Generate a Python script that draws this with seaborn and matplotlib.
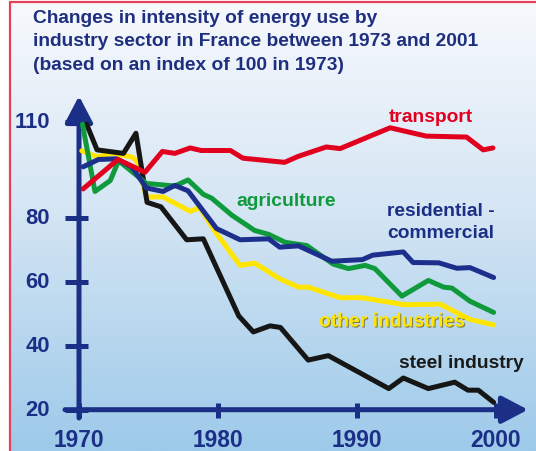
import numpy as np
import pandas as pd
import matplotlib
matplotlib.use("Agg")
import matplotlib.pyplot as plt
import seaborn as sns
from matplotlib import patheffects as pe
from matplotlib.colors import LinearSegmentedColormap
from matplotlib.lines import Line2D

# ---------------- data ----------------
title_lines = [
    "Changes in intensity of energy use by",
    "industry sector in France between 1973 and 2001",
    "(based on an index of 100 in 1973)",
]
x_ticks = [1970, 1980, 1990, 2000]
y_ticks = [20, 40, 60, 80, 110]

transport_years = [1970.3, 1972.8, 1974.75, 1976.0, 1976.9, 1978.0, 1978.8, 1980.9, 1981.8,
                   1984.8, 1985.8, 1987.8, 1988.8, 1992.4, 1995.0, 1997.9, 1999.1, 1999.8]
transport_index = [89.0, 98.2, 94.2, 100.7, 100.1, 101.8, 101.0, 101.0, 98.6,
                   97.3, 99.2, 102.1, 101.6, 108.1, 105.5, 105.2, 101.2, 101.8]

steel_years = [1970.55, 1971.3, 1973.2, 1974.1, 1974.9, 1975.9, 1977.75, 1978.95, 1981.5,
               1982.55, 1983.75, 1984.5, 1986.5, 1987.95, 1992.3, 1993.35, 1995.15,
               1997.05, 1998.0, 1998.75, 1999.85]
steel_index = [109.2, 101.2, 100.1, 106.4, 84.8, 83.4, 73.1, 73.4, 49.3,
               44.3, 46.2, 45.7, 35.5, 36.9, 26.6, 29.9, 26.6,
               28.6, 26.1, 26.1, 22.3]

agri_years = [1970.25, 1971.15, 1972.25, 1972.85, 1974.85, 1976.9, 1977.85, 1978.95, 1979.55,
              1981.0, 1982.65, 1983.65, 1984.85, 1986.4, 1988.3, 1989.4, 1990.6, 1991.3,
              1993.25, 1995.15, 1996.25, 1996.85, 1998.15, 1999.85]
agri_index = [109.2, 88.2, 91.6, 97.8, 90.7, 89.9, 91.8, 87.3, 86.1,
              80.8, 76.0, 74.8, 72.3, 71.3, 65.5, 64.1, 65.1, 64.1,
              55.5, 60.4, 58.3, 58.0, 53.9, 50.4]

other_years = [1970.2, 1971.3, 1972.45, 1973.8, 1974.15, 1974.85, 1976.05, 1978.0, 1978.7,
               1979.9, 1981.6, 1982.65, 1984.45, 1985.8, 1986.5, 1988.8, 1990.35, 1993.45,
               1996.0, 1998.15, 1999.85]
other_index = [100.9, 99.0, 100.1, 99.0, 97.8, 86.5, 86.5, 82.0, 83.1,
               75.0, 65.1, 65.8, 60.9, 58.3, 58.3, 55.0, 55.0, 52.8,
               53.0, 48.2, 46.5]

resid_years = [1970.3, 1971.4, 1972.7, 1973.8, 1974.85, 1976.05, 1976.9, 1977.85, 1979.9,
               1981.6, 1983.65, 1984.45, 1985.8, 1988.2, 1990.4, 1991.15, 1993.35, 1994.05,
               1995.9, 1997.2, 1998.15, 1999.85]
resid_index = [95.9, 98.2, 98.4, 95.9, 89.3, 88.2, 90.1, 88.4, 76.6,
               73.1, 73.4, 70.8, 71.2, 66.4, 66.9, 68.3, 69.3, 66.0,
               65.9, 64.2, 64.4, 61.3]

series = {
    "other industries": (other_years, other_index),
    "steel industry": (steel_years, steel_index),
    "agriculture": (agri_years, agri_index),
    "residential - commercial": (resid_years, resid_index),
    "transport": (transport_years, transport_index),
}

# ---------------- style ----------------
NAVY = "#1c2f86"
colors = {
    "other industries": "#ffe500",
    "steel industry": "#161616",
    "agriculture": "#0f9a3c",
    "residential - commercial": "#1d2f8c",
    "transport": "#e2001f",
}

rows = []
for name, (xs, ys) in series.items():
    for x, y in zip(xs, ys):
        rows.append({"year": x, "index": y, "sector": name})
df = pd.DataFrame(rows)

sns.set_theme(style="white")
plt.rcParams["font.family"] = ["Liberation Sans", "DejaVu Sans"]
plt.rcParams["font.weight"] = "bold"

W, H = 536, 452
fig = plt.figure(figsize=(W / 100, H / 100), dpi=100)
fig.patch.set_facecolor("white")

# gradient background inside the red frame
bg = fig.add_axes([10 / W, 0, 1 - 10 / W, 1 - 3 / H])
cmap = LinearSegmentedColormap.from_list(
    "bg", [(0, "#f7f9fd"), (0.45, "#d6e6f4"), (1, "#9dcaea")])
bg.imshow(np.linspace(0, 1, 256).reshape(-1, 1), aspect="auto", cmap=cmap,
          extent=[0, 1, 1, 0])
bg.set_axis_off()

ax = fig.add_axes([0, 0, 1, 1])
ax.patch.set_alpha(0)
ax.set_axis_off()

# pixel mapping: 1970 -> px 79, 13.89 px/yr ; 20 -> px 410.7, 3.2 px/unit
PXY = 13.89
PYU = 3.2
ax.set_xlim(1970 - 79 / PXY, 1970 + (W - 79) / PXY)
ax.set_ylim(20 - (H - 410.7) / PYU, 20 + 410.7 / PYU)

def px2x(px):
    return 1970 + (px - 79) / PXY

def py2y(py):
    return 20 + (410.7 - py) / PYU

# frame lines (red)
fig.add_artist(Line2D([10 / W, 1], [1 - 3 / H, 1 - 3 / H], transform=fig.transFigure,
                      color="#e5405a", lw=1.6))
fig.add_artist(Line2D([10 / W, 10 / W], [0, 1 - 3 / H], transform=fig.transFigure,
                      color="#e5405a", lw=1.6))

# axes with arrows
arrow_kw = dict(arrowstyle="-|>,head_length=0.8,head_width=0.42", color=NAVY, lw=3.6,
                mutation_scale=20, shrinkA=0, shrinkB=0)
ax.annotate("", xy=(1970, py2y(97)), xytext=(1970, py2y(419)), arrowprops=arrow_kw, zorder=3)
ax.annotate("", xy=(px2x(528), 20), xytext=(px2x(65), 20), arrowprops=arrow_kw, zorder=3)

# ticks
ax.hlines(y_ticks, px2x(65), px2x(88), color=NAVY, lw=3.6, zorder=3)
ax.vlines(x_ticks, py2y(419), py2y(404), color=NAVY, lw=3.6, zorder=3)
for v in y_ticks:
    ax.text(px2x(50), v, str(v), ha="right", va="center", fontsize=15.8,
            fontweight="bold", color=NAVY)
for v in x_ticks:
    ax.text(v, py2y(441), str(v), ha="center", va="center", fontsize=16.4,
            fontweight="bold", color=NAVY)

# lines
sns.lineplot(data=df, x="year", y="index", hue="sector", hue_order=list(series.keys()),
             palette=colors, estimator=None, sort=False, lw=3.6, legend=False, ax=ax,
             zorder=4)

# title
for i, line in enumerate(title_lines):
    fig.text(33 / W, 1 - (23 + 23.3 * i) / H, line, ha="left", va="baseline",
             fontsize=13.8, fontweight="bold", color="#1f2f80")

# series labels
lab_kw = dict(fontsize=13.9, fontweight="bold", va="center", ha="left")
fig.text(389 / W, 1 - 117 / H, "transport", color=colors["transport"], **lab_kw)
fig.text(236 / W, 1 - 201 / H, "agriculture", color=colors["agriculture"], **lab_kw)
fig.text(387 / W, 1 - 212 / H, "residential -", color=NAVY, **lab_kw)
fig.text(387 / W, 1 - 234 / H, "commercial", color=NAVY, **lab_kw)
t = fig.text(319 / W, 1 - 323 / H, "other industries", color=colors["other industries"], **lab_kw)
t.set_path_effects([pe.withSimplePatchShadow(offset=(0.8, -0.8), shadow_rgbFace="#6b5d00", alpha=0.7)])
fig.text(399 / W, 1 - 364 / H, "steel industry", color="#1a1a1a", **lab_kw)

fig.savefig("out.png", dpi=100)
